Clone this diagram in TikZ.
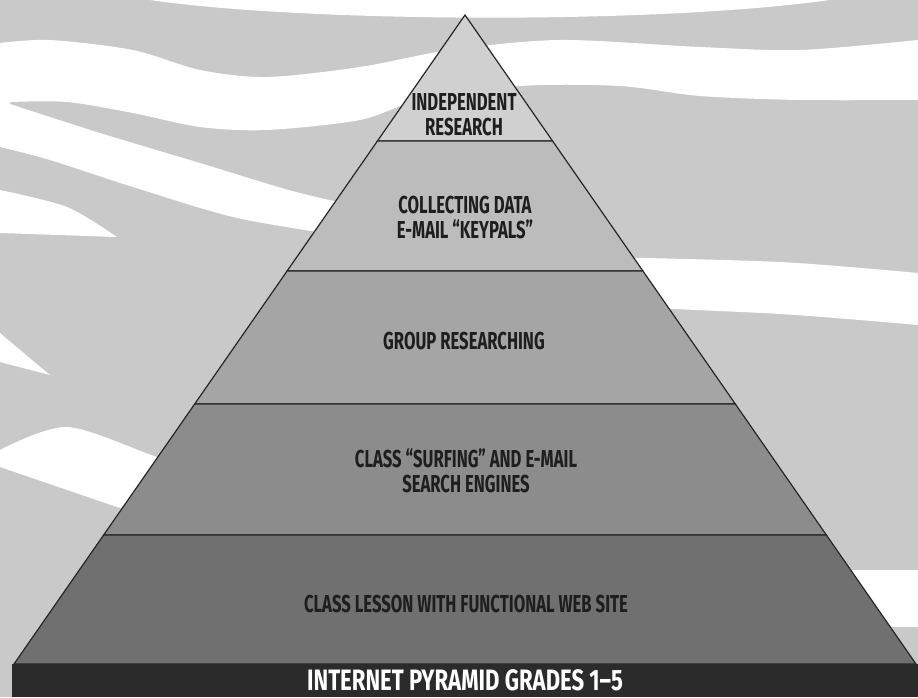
\documentclass[tikz,border=0pt]{standalone}
\usepackage{fontspec}
\usetikzlibrary{calc}

\newfontfamily\pyrfont[FakeStretch=0.68]{Fira Sans}
\newfontfamily\bannerfont[FakeStretch=0.75]{Fira Sans}

\definecolor{bggray}{HTML}{C9C9C9}
\definecolor{tierA}{HTML}{D0D0D0}
\definecolor{tierB}{HTML}{BCBCBC}
\definecolor{tierC}{HTML}{A5A5A5}
\definecolor{tierD}{HTML}{8C8C8C}
\definecolor{tierE}{HTML}{707070}
\definecolor{edgegray}{HTML}{262626}
\definecolor{inkgray}{HTML}{1E1E1E}
\definecolor{bannergray}{HTML}{2B2B2B}

\begin{document}
\begin{tikzpicture}[x=1pt, y=-1pt,
    tier/.style={fill=#1, draw=edgegray, line width=1.2pt},
    tiertext/.style={font=\pyrfont\bfseries\fontsize{24.5}{25}\selectfont, text=inkgray, align=center},
    bannertext/.style={font=\bannerfont\bfseries\fontsize{29.5}{31}\selectfont, text=white, inner sep=1pt}]

    % background with white waves
    \fill[bggray] (0,0) rectangle (918,697);
    \useasboundingbox (0,0) rectangle (918,697);

    \fill[white] (150,0) .. controls (300,22) and (650,25) .. (830,0) -- cycle;
    \fill[white] plot[smooth] coordinates {(0,43) (50,40) (133,50) (200,70) (267,77) (360,67) (450,50) (560,40) (700,47) (800,50) (918,40)}
        -- plot[smooth] coordinates {(918,100) (800,100) (700,96) (620,86) (520,86) (420,100) (360,120) (267,130) (200,127) (133,113) (67,102) (10,102)}
        -- plot[smooth] coordinates {(10,104) (100,133) (200,163) (300,193) (420,220)}
        -- plot[smooth] coordinates {(420,255) (333,235) (233,217) (133,187) (50,160) (0,147)}
        -- cycle;
    \fill[white] plot[smooth] coordinates {(0,190) (67,207) (117,237)} -- (0,233) -- cycle;
    \fill[white] (0,333) .. controls (20,350) .. (50,375) -- (0,362) -- cycle;
    \fill[white] plot[smooth] coordinates {(0,450) (67,427) (157,457) (230,480)}
        -- (230,530) -- plot[smooth] coordinates {(117,507) (0,467)} -- cycle;
    \fill[white] plot[smooth] coordinates {(600,257) (780,262) (918,273)}
        -- (918,325) -- plot[smooth] coordinates {(918,325) (780,314) (600,306)} -- cycle;
    \fill[white] (820,570) rectangle (918,627);

    % pyramid tiers
    \coordinate (apex) at (465,15);
    \coordinate (bl) at (14,664);
    \coordinate (br) at (916,664);
    \foreach \t [count=\i] in {0.1941,0.3945,0.5994,0.8012} {
        \coordinate (l\i) at ($(apex)!\t!(bl)$);
        \coordinate (r\i) at ($(apex)!\t!(br)$);
    }

    \filldraw[tier=tierA] (apex) -- (r1) -- (l1) -- cycle;
    \filldraw[tier=tierB] (l1) -- (r1) -- (r2) -- (l2) -- cycle;
    \filldraw[tier=tierC] (l2) -- (r2) -- (r3) -- (l3) -- cycle;
    \filldraw[tier=tierD] (l3) -- (r3) -- (r4) -- (l4) -- cycle;
    \filldraw[tier=tierE] (l4) -- (r4) -- (br) -- (bl) -- cycle;

    % title bar
    \fill[bannergray] (12,664) rectangle (918,697);

    \node[tiertext] (indep) at (464,115) {INDEPENDENT\\RESEARCH};
    \node[tiertext] (collect) at (465,218) {COLLECTING DATA\\E-MAIL “KEYPALS”};
    \node[tiertext] (group) at (464,341) {GROUP RESEARCHING};
    \node[tiertext] (surf) at (466,471) {CLASS “SURFING” AND E-MAIL\\SEARCH ENGINES};
    \node[tiertext] (lesson) at (466,604) {CLASS LESSON WITH FUNCTIONAL WEB SITE};
    \node[bannertext] (title) at (465,680) {INTERNET PYRAMID GRADES 1–5};
\end{tikzpicture}
\end{document}
